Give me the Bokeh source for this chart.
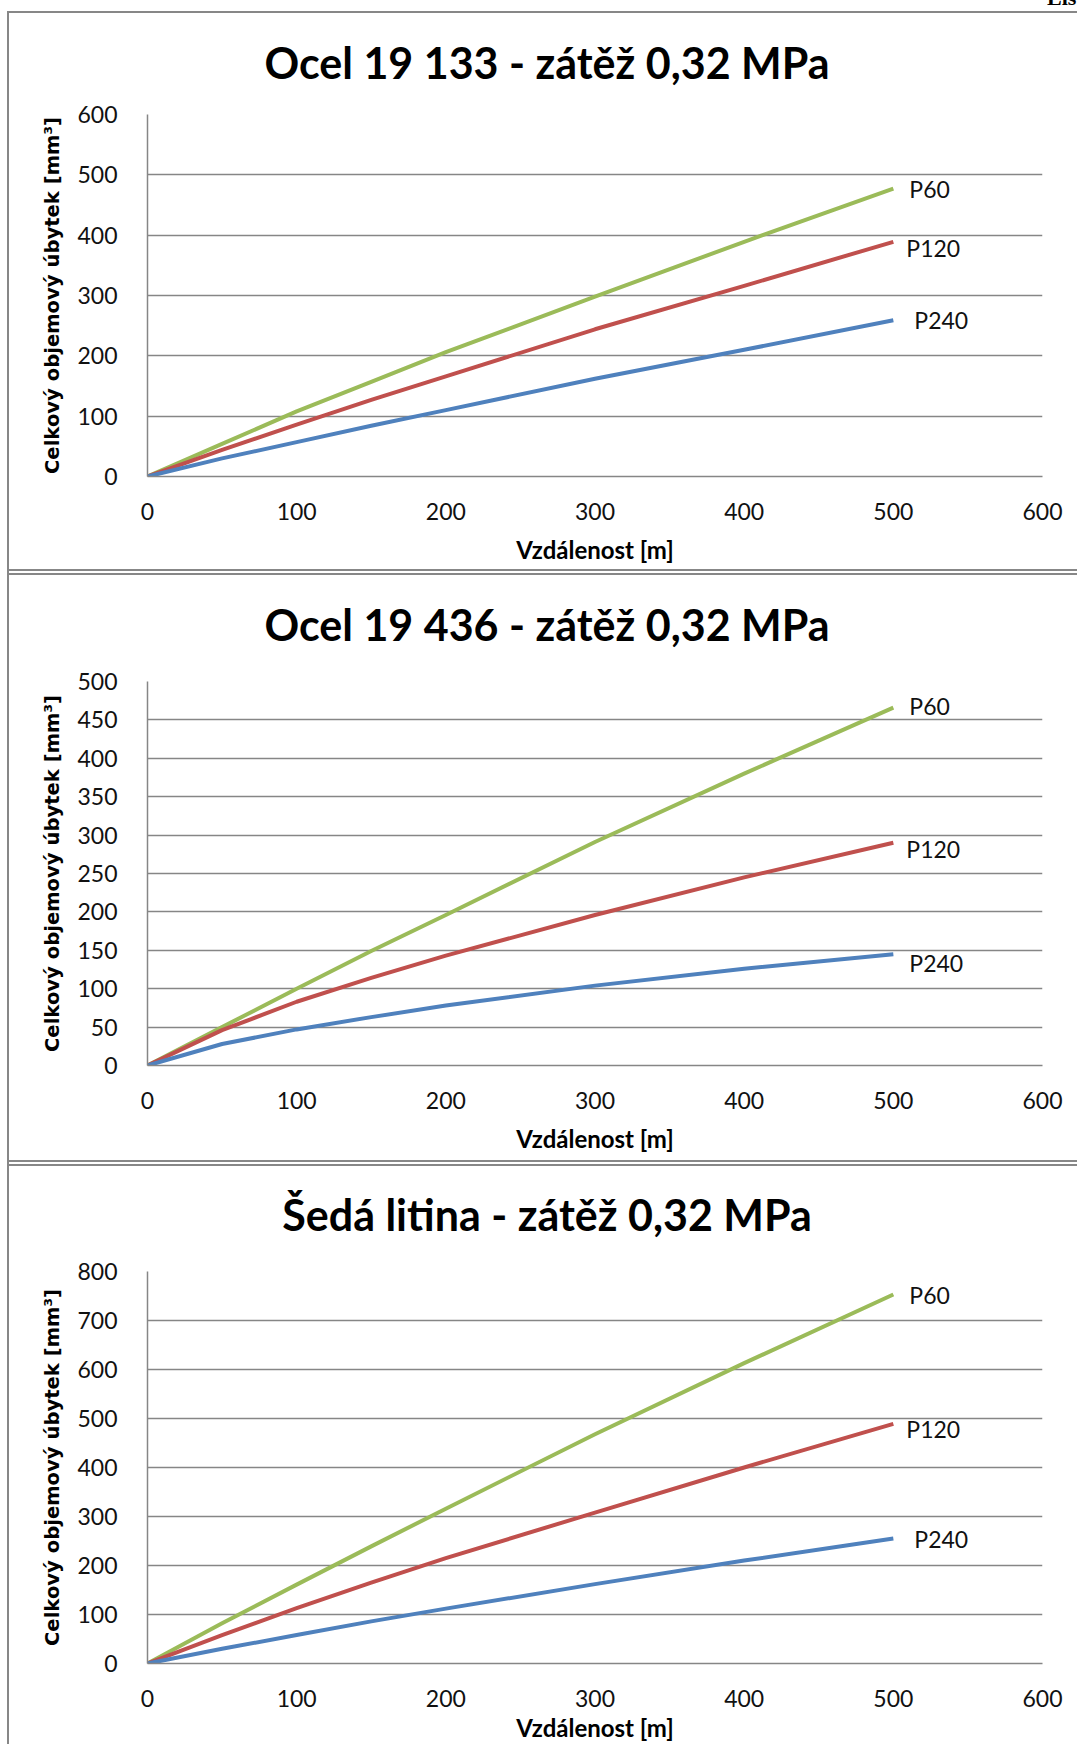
from bokeh.plotting import figure
from bokeh.layouts import column, row
from bokeh.models import FixedTicker, ColumnDataSource, Div, Spacer
from bokeh.core.properties import value
from bokeh.embed import file_html
from bokeh.resources import INLINE

# Distance along the test track [m]
distance = [0, 50, 100, 150, 200, 300, 400, 500]

series_names = ["P60", "P120", "P240"]
series_colors = ["#9BBB59", "#C0504D", "#4F81BD"]

# Ocel 19 133
steel_19133_p60 = [0, 54, 108, 157, 206, 298, 389, 477]
steel_19133_p120 = [0, 44, 86, 127, 166, 244, 316, 389]
steel_19133_p240 = [0, 30, 57, 84, 110, 162, 210, 259]

# Ocel 19 436
steel_19436_p60 = [0, 50, 100, 149, 196, 291, 380, 466]
steel_19436_p120 = [0, 46, 83, 114, 143, 196, 245, 290]
steel_19436_p240 = [0, 28, 47, 63, 78, 104, 126, 145]

# Šedá litina
cast_iron_p60 = [0, 82, 161, 239, 316, 468, 613, 753]
cast_iron_p120 = [0, 58, 113, 165, 215, 308, 400, 489]
cast_iron_p240 = [0, 30, 58, 86, 112, 162, 210, 255]

titles = [
    "Ocel 19 133 - zátěž 0,32 MPa",
    "Ocel 19 436 - zátěž 0,32 MPa",
    "Šedá litina - zátěž 0,32 MPa",
]
panel_series = [
    [steel_19133_p60, steel_19133_p120, steel_19133_p240],
    [steel_19436_p60, steel_19436_p120, steel_19436_p240],
    [cast_iron_p60, cast_iron_p120, cast_iron_p240],
]
x_max = 600
y_max = [600, 500, 800]
y_step = [100, 50, 100]
x_ticks = [0, 100, 200, 300, 400, 500, 600]

y_title = "Celkový objemový úbytek [mm³]"
x_title = "Vzdálenost [m]"

# ---- layout / style (pixels) ----
LEFT_PAD = 7          # white strip left of the chart border
BORDER = 2            # border line thickness
GAP = 2               # white gap between stacked chart boxes
TOP_PAD = 11          # white strip above the first chart box
W = 1077 - LEFT_PAD - BORDER
TITLE_H = 85          # height of the title strip of every chart box
title_top = [28, 28, 27]
title_center = 538    # horizontal centre of the title inside a chart box
fig_h = [471, 500, 493]
frame_left, frame_w = 138, 895
frame_top = [16, 21, 20]
frame_h = [362, 384, 392]
xlabel_standoff = [12, 12, 3]
label_dx = [[16, 13, 21], [16, 13, 16], [16, 13, 21]]
label_dy = [[0, 6, 0], [-2, 6, 9], [0, 5, 0]]

GRID = "#868686"
BOX = "#878787"
FONT = "Lato"


def title_strip(i):
    html = (
        f'<div style="position:relative; top:{title_top[i]}px; left:0px; '
        f'width:{2 * title_center}px; text-align:center; white-space:nowrap; '
        f"font-family:'{FONT}'; font-weight:bold; font-size:43px; "
        f'line-height:43px; color:#000;">{titles[i]}</div>'
    )
    return Div(text=html, width=W, height=TITLE_H, margin=0,
               styles={"overflow": "hidden", "background-color": "white"})


def build(i):
    H = fig_h[i]
    ft, fh = frame_top[i], frame_h[i]
    p = figure(
        width=W, height=H,
        x_range=(0, x_max), y_range=(0, y_max[i]),
        output_backend="svg", toolbar_location=None,
        min_border_left=frame_left, min_border_right=W - frame_left - frame_w,
        min_border_top=ft, min_border_bottom=H - ft - fh,
    )
    p.title = None
    p.background_fill_color = "white"
    p.border_fill_color = "white"
    p.outline_line_color = None

    p.xgrid.grid_line_color = None
    p.ygrid.grid_line_color = GRID
    p.ygrid.grid_line_width = 1.5

    p.xaxis.ticker = FixedTicker(ticks=x_ticks)
    p.yaxis.ticker = FixedTicker(ticks=list(range(0, y_max[i] + 1, y_step[i])))
    for ax in (p.xaxis, p.yaxis):
        ax.axis_line_color = GRID
        ax.axis_line_width = 1.5
        ax.major_tick_line_color = None
        ax.minor_tick_line_color = None
        ax.major_label_text_font = FONT
        ax.major_label_text_font_size = "23px"
        ax.major_label_text_color = "#111111"
        ax.axis_label_text_color = "#000000"
        ax.axis_label_text_font_style = "bold"
    p.xaxis.major_label_standoff = 20
    p.yaxis.major_label_standoff = 24

    p.xaxis.axis_label = x_title
    p.xaxis.axis_label_text_font = FONT
    p.xaxis.axis_label_text_font_size = "24px"
    p.xaxis.axis_label_standoff = xlabel_standoff[i]

    p.yaxis.axis_label = y_title
    p.yaxis.axis_label_text_font = "DejaVu Sans"
    p.yaxis.axis_label_text_font_size = "19.6px"
    p.yaxis.axis_label_standoff = 10

    ends = []
    for name, col, ys in zip(series_names, series_colors, panel_series[i]):
        p.line(distance, ys, line_color=col, line_width=4, line_join="round")
        ends.append(ys[-1])

    src = ColumnDataSource(dict(
        x=[distance[-1]] * 3, y=ends, t=series_names,
        dx=label_dx[i], dy=label_dy[i],
    ))
    p.text(x="x", y="y", text="t", x_offset="dx", y_offset="dy", source=src,
           text_font=value(FONT), text_font_size="23px", text_color="#111111",
           text_align="left", text_baseline="middle")
    return p


def hline():
    return Div(text="", width=W, height=BORDER, margin=0,
               styles={"background-color": BOX})


def gap():
    return Spacer(width=W, height=GAP, margin=0)


header = Div(
    text=('<div style="position:relative; left:1038px; top:-13px; '
          'font-family:\'Liberation Serif\'; font-weight:bold; font-size:22px; '
          'line-height:22px; white-space:nowrap; color:#000;">List</div>'),
    width=W, height=TOP_PAD, margin=0, styles={"overflow": "hidden"},
)

figs = [build(i) for i in range(3)]
charts = column(
    header,
    hline(), title_strip(0), figs[0], hline(),
    gap(),
    hline(), title_strip(1), figs[1], hline(),
    gap(),
    hline(), title_strip(2), figs[2],
    spacing=0,
)
left_border = column(
    Spacer(width=BORDER, height=TOP_PAD, margin=0),
    Div(text="", width=BORDER, height=1744 - TOP_PAD, margin=0,
        styles={"background-color": BOX}),
    spacing=0,
)
layout = row(Spacer(width=LEFT_PAD, height=1744, margin=0), left_border, charts, spacing=0)
open("out.html", "w").write(file_html(layout, INLINE))
